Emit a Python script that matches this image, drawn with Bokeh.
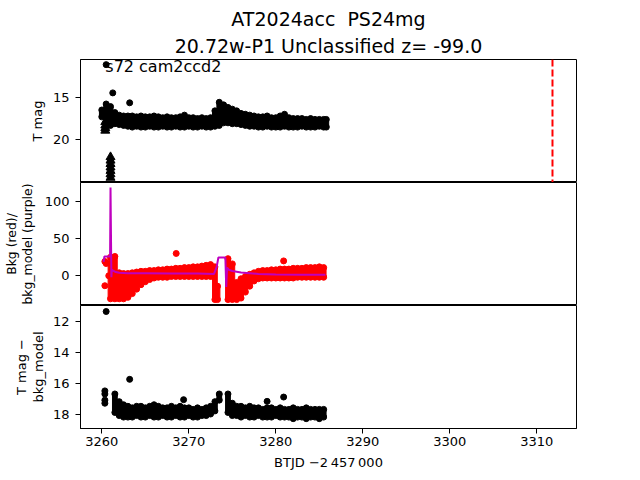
from bokeh.plotting import figure
from bokeh.models import Range1d, FixedTicker, Span, Label, Title, Spacer
from bokeh.layouts import column
from bokeh.embed import file_html
from bokeh.resources import INLINE

FONT = "DejaVu Sans"

# ---------------- data ----------------
title_line1 = "AT2024acc\u00a0 PS24mg"
title_line2 = "20.72w-P1 Unclassified z= -99.0"
sector_text = "s72 cam2ccd2"
x_label = "BTJD \u22122\u2009457\u2009000"

x_ticks = [3260, 3270, 3280, 3290, 3300, 3310]
top_ticks = [15, 20]
mid_ticks = [0, 50, 100]
bot_ticks = [12, 14, 16, 18]

event_time = 3311.8

# top panel: T mag band (upper / lower envelope of the dense cloud)
top_t = [3260.0, 3260.5, 3261.0, 3261.5, 3262.0, 3262.5, 3263.0, 3263.5, 3264.0, 3264.5,
         3265.0, 3265.5, 3266.0, 3266.5, 3267.0, 3267.5, 3268.0, 3268.5, 3269.0, 3269.5,
         3270.0, 3270.5, 3271.0, 3271.5, 3272.0, 3272.5, 3273.0, 3273.5, 3274.0, 3274.5,
         3275.0, 3275.5, 3276.0, 3276.5, 3277.0, 3277.5, 3278.0, 3278.5, 3279.0, 3279.5,
         3280.0, 3280.5, 3281.0, 3281.5, 3282.0, 3282.5, 3283.0, 3283.5, 3284.0, 3284.5,
         3285.0, 3285.5, 3285.8]
top_bright = [16.5, 15.8, 16.1, 16.8, 17.1, 17.2, 17.2, 17.2, 17.3, 17.2,
              17.3, 17.3, 17.2, 17.3, 17.4, 17.3, 17.4, 17.4, 17.3, 17.1,
              17.4, 17.4, 17.5, 17.4, 17.5, 17.4, 16.6, 15.6, 15.9, 16.2,
              16.4, 16.6, 16.9, 17.0, 17.1, 17.2, 17.3, 17.3, 17.2, 17.4,
              17.4, 17.2, 17.0, 17.4, 17.5, 17.5, 17.5, 17.6, 17.5, 17.6,
              17.6, 17.6, 17.6]
top_faint = [17.3, 18.3, 18.3, 18.1, 18.2, 18.3, 18.4, 18.5, 18.4, 18.5,
             18.5, 18.4, 18.5, 18.5, 18.4, 18.5, 18.5, 18.4, 18.5, 18.5,
             18.4, 18.5, 18.5, 18.4, 18.5, 18.5, 18.4, 18.3, 18.0, 18.0,
             18.1, 18.1, 18.2, 18.3, 18.4, 18.4, 18.5, 18.5, 18.4, 18.5,
             18.5, 18.5, 18.4, 18.5, 18.5, 18.5, 18.4, 18.5, 18.5, 18.5,
             18.4, 18.5, 18.5]
top_dot_t = [3260.5, 3261.26, 3263.2]
top_dot_m = [11.2, 14.5, 15.66]
lim_t = [3260.4, 3260.4, 3260.4, 3260.4, 3261.0, 3261.0, 3261.0, 3261.0, 3261.0, 3261.0, 3261.0]
lim_m = [17.9, 18.3, 18.6, 18.9, 22.0, 22.4, 22.8, 23.2, 23.6, 24.0, 24.4]

# middle panel: background (red cloud envelope) and bkg_model (purple line)
bkg1_t = [3261.0, 3261.5, 3262.0, 3262.5, 3263.0, 3263.5, 3264.0, 3264.5, 3265.0, 3265.5,
          3266.0, 3266.5, 3267.0, 3267.5, 3268.0, 3268.5, 3269.0, 3269.5, 3270.0, 3270.5,
          3271.0, 3271.5, 3272.0, 3272.5, 3273.0, 3273.3]
bkg1_hi = [25, 26, 4, 3, 3, 4, 5, 6, 6, 7, 7, 8, 8, 9, 9, 10, 10, 11, 11, 12,
           12, 13, 14, 15, 12, -14]
bkg1_lo = [-31, -31, -31, -31, -29, -24, -18, -12, -8, -5, -3, -2, -2, -2, -1, -1, -1, -1, -1, -1,
           -1, -1, -1, -1, -32, -32]
bkg2_t = [3274.5, 3275.0, 3275.5, 3276.0, 3276.5, 3277.0, 3277.5, 3278.0, 3278.5, 3279.0,
          3279.5, 3280.0, 3280.5, 3281.0, 3281.5, 3282.0, 3282.5, 3283.0, 3283.5, 3284.0,
          3284.5, 3285.0, 3285.5]
bkg2_hi = [23, 16, -9, -4, -1, 2, 4, 6, 7, 7, 8, 8, 9, 9, 9, 10, 10, 10, 11, 11, 11, 12, 11]
bkg2_lo = [-32, -32, -32, -30, -22, -14, -7, -4, -3, -3, -3, -3, -3, -3, -3, -3, -2, -2, -2, -2,
           -2, -2, -2]
bkg_dot_t = [3260.35, 3260.5, 3260.8, 3260.35, 3268.55, 3280.9]
bkg_dot_v = [19.2, 16.5, 0, -13.4, 30, 20]
model_t = [3260.2, 3260.3, 3260.6, 3260.95, 3261.0, 3261.1, 3261.15, 3261.3, 3261.6, 3262.0,
           3263.0, 3265.0, 3268.0, 3271.0, 3272.9, 3273.2, 3273.4, 3274.2, 3274.3, 3274.4,
           3274.6, 3275.0, 3276.0, 3277.0, 3278.0, 3280.0, 3283.0, 3285.7]
model_v = [18.8, 26, 26, 26, 118.7, -2, 8, 7, 5, 4,
           3.5, 3.5, 3.2, 3.0, 2.5, 12, 24.6, 24.6, -15, 11,
           8, 6.5, 4.5, 3.5, 2.5, 1.8, 1.5, 1.3]

# bottom panel: T mag - bkg_model
d1_t = [3261.5, 3262.0, 3262.5, 3263.0, 3263.5, 3264.0, 3264.5, 3265.0, 3265.5, 3266.0,
        3266.5, 3267.0, 3267.5, 3268.0, 3268.5, 3269.0, 3269.5, 3270.0, 3270.5, 3271.0,
        3271.5, 3272.0, 3272.5, 3273.0, 3273.5]
d1_bright = [16.7, 17.2, 17.4, 17.5, 17.6, 17.5, 17.5, 17.6, 17.5, 17.4,
             17.5, 17.6, 17.6, 17.5, 17.6, 17.5, 17.6, 17.6, 17.7, 17.6,
             17.7, 17.6, 17.5, 17.2, 16.7]
d1_faint = [17.9, 18.1, 18.2, 18.2, 18.2, 18.1, 18.2, 18.2, 18.1, 18.2,
            18.2, 18.1, 18.2, 18.2, 18.1, 18.2, 18.2, 18.1, 18.2, 18.2,
            18.1, 18.1, 18.0, 17.8, 17.1]
d2_t = [3274.5, 3275.0, 3275.5, 3276.0, 3276.5, 3277.0, 3277.5, 3278.0, 3278.5, 3279.0,
        3279.5, 3280.0, 3280.5, 3281.0, 3281.5, 3282.0, 3282.5, 3283.0, 3283.5, 3284.0,
        3284.5, 3285.0, 3285.5]
d2_bright = [16.7, 17.3, 17.5, 17.5, 17.6, 17.5, 17.6, 17.6, 17.7, 17.6,
             17.6, 17.7, 17.6, 17.7, 17.7, 17.6, 17.7, 17.7, 17.6, 17.7,
             17.7, 17.7, 17.7]
d2_faint = [17.9, 18.1, 18.1, 18.2, 18.1, 18.2, 18.2, 18.1, 18.2, 18.2,
            18.2, 18.1, 18.2, 18.2, 18.2, 18.3, 18.2, 18.2, 18.3, 18.2,
            18.2, 18.3, 18.2]
diff_dot_t = [3260.5, 3263.2, 3269.4, 3279.0, 3280.9, 3260.35, 3260.35, 3260.35, 3260.35]
diff_dot_m = [11.35, 15.75, 17.07, 17.18, 16.9, 16.5, 16.7, 17.1, 17.3]

# ---------------- figures ----------------
x_range = Range1d(3257.55, 3314.56)

def make_fig(y_range, ticks, label, label_standoff, line_height=1.2, label_size="13px",
             show_x=False):
    p = figure(frame_width=496, frame_height=123, x_range=x_range, y_range=y_range,
               min_border_left=72, min_border_right=40, min_border_top=0,
               min_border_bottom=0, toolbar_location=None, output_backend="svg",
               background_fill_color="white", border_fill_color="white")
    p.outline_line_color = "black"
    p.outline_line_alpha = 1.0
    p.outline_line_width = 1
    p.xgrid.visible = False
    p.ygrid.visible = False
    ax = p.yaxis[0]
    ax.ticker = FixedTicker(ticks=ticks)
    ax.minor_tick_line_color = None
    ax.major_tick_out = 5
    ax.major_tick_in = 0
    ax.major_label_standoff = 6
    ax.axis_label = label
    ax.axis_label_standoff = label_standoff
    ax.axis_label_text_font = FONT
    ax.axis_label_text_font_size = label_size
    ax.axis_label_text_font_style = "normal"
    ax.axis_label_text_color = "black"
    ax.axis_label_text_line_height = line_height
    ax.major_label_text_font = FONT
    ax.major_label_text_font_size = "13px"
    ax.major_label_text_color = "black"
    ax.axis_line_color = "black"
    ax.major_tick_line_color = "black"
    xa = p.xaxis[0]
    if show_x:
        xa.ticker = FixedTicker(ticks=x_ticks)
        xa.minor_tick_line_color = None
        xa.major_tick_out = 5
        xa.major_tick_in = 0
        xa.major_label_standoff = 3
        xa.axis_label = x_label
        xa.axis_label_standoff = 6
        xa.axis_label_text_font = FONT
        xa.axis_label_text_font_size = "13px"
        xa.axis_label_text_font_style = "normal"
        xa.axis_label_text_color = "black"
        xa.major_label_text_font = FONT
        xa.major_label_text_font_size = "13px"
        xa.major_label_text_color = "black"
        xa.axis_line_color = "black"
        xa.major_tick_line_color = "black"
    else:
        xa.visible = False
    return p

# top panel
p1 = make_fig(Range1d(24.97, 10.6), top_ticks, "T mag", 5)
p1.title.text = title_line1
p1.title.align = "center"
p1.title.text_font = FONT
p1.title.text_font_size = "19px"
p1.title.text_font_style = "normal"
p1.title.text_color = "black"
p1.title.standoff = 0
t2 = Title(text=title_line2, align="center", text_font=FONT, text_font_size="19px",
           text_font_style="normal", text_color="black", standoff=6)
p1.add_layout(t2, "above")

p1.vbar(x=top_t, width=0.55, top=top_bright, bottom=top_faint, color="black")
p1.scatter(top_t, top_bright, size=6, color="black")
p1.scatter(top_t, top_faint, size=6, color="black")
p1.scatter(top_dot_t, top_dot_m, size=6, color="black")
p1.scatter(lim_t, lim_m, marker="triangle", size=9, color="black")
p1.add_layout(Span(location=event_time, dimension="height", line_color="red",
                   line_width=2, line_dash="7 3"))
p1.add_layout(Label(x=3260.4, y=10.6, y_offset=3, text=sector_text, text_font=FONT,
                    text_font_size="16px", text_baseline="top", text_align="left",
                    text_color="black"))

# middle panel
p2 = make_fig(Range1d(-40, 125.5), mid_ticks, "Bkg (red)/\nbkg_model (purple)", 7, 1.05,
              label_size="12.4px")
for tt, hh, ll in ((bkg1_t, bkg1_hi, bkg1_lo), (bkg2_t, bkg2_hi, bkg2_lo)):
    p2.vbar(x=tt, width=0.55, top=hh, bottom=ll, color="red")
    p2.scatter(tt, hh, size=6, color="red")
    p2.scatter(tt, ll, size=6, color="red")
p2.scatter(bkg_dot_t, bkg_dot_v, size=6, color="red")
p2.line(model_t, model_v, line_color="#bf00bf", line_width=2)

# bottom panel
p3 = make_fig(Range1d(18.94, 10.96), bot_ticks, "T mag \u2212\nbkg_model", 4, 1.1, show_x=True)
for tt, bb, ff in ((d1_t, d1_bright, d1_faint), (d2_t, d2_bright, d2_faint)):
    p3.vbar(x=tt, width=0.55, top=bb, bottom=ff, color="black")
    p3.scatter(tt, bb, size=6, color="black")
    p3.scatter(tt, ff, size=6, color="black")
p3.scatter(diff_dot_t, diff_dot_m, size=6, color="black")

layout = column(Spacer(width=608, height=5), p1, p2, p3, spacing=0)
open("out.html", "w").write(file_html(layout, INLINE))
